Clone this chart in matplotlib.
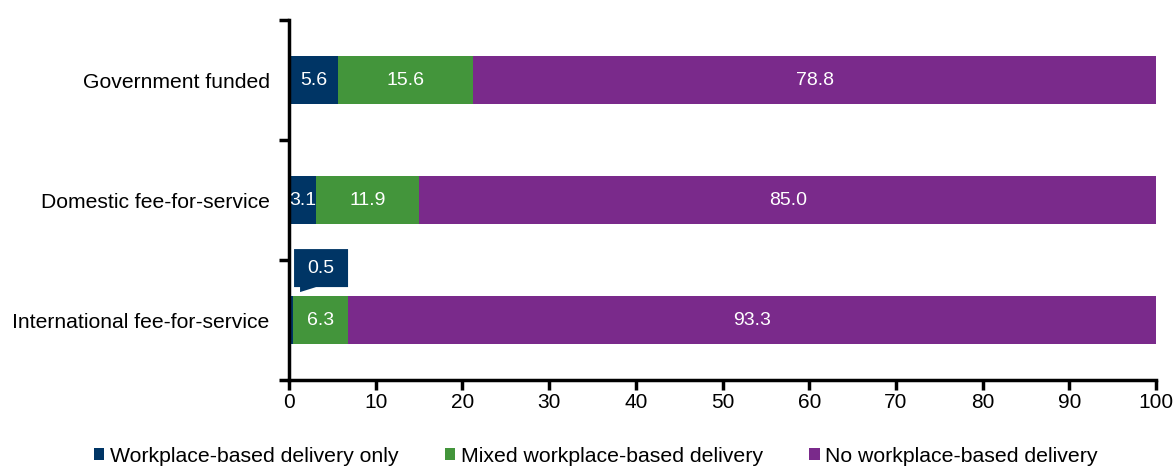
import numpy as np
import matplotlib.pyplot as plt
from matplotlib.patches import Polygon
from matplotlib.transforms import ScaledTranslation

plt.rcParams['font.family'] = ['Liberation Sans', 'DejaVu Sans']

# data (bottom to top)
categories = ['International fee-for-service', 'Domestic fee-for-service', 'Government funded']
workplace_only = [0.5, 3.1, 5.6]
mixed = [6.3, 11.9, 15.6]
no_workplace = [93.3, 85.0, 78.8]
series_names = ['Workplace-based delivery only', 'Mixed workplace-based delivery',
                'No workplace-based delivery']
colors = ['#003565', '#43953B', '#7A2A8B']

fig = plt.figure(figsize=(11.75, 4.66), dpi=100)
ax = fig.add_axes([0.246, 0.1845, 0.738, 0.772])

y = np.arange(len(categories))
left = np.zeros(len(categories))
for vals, name, col in zip([workplace_only, mixed, no_workplace], series_names, colors):
    vals = np.array(vals)
    ax.barh(y, vals, left=left, height=0.4, color=col, label=name)
    for i, v in enumerate(vals):
        if v >= 1:
            ax.text(left[i] + v / 2, y[i], f'{v:.1f}', ha='center', va='center',
                    color='white', fontsize=14)
    left += vals

ax.set_xlim(0, 100)
ax.set_ylim(-0.5, 2.5)

# callout for the tiny value, anchored at the top-left of its bar (shape in points)
v0 = workplace_only[0]
anchor = (0, y[0] + 0.2)
call_tr = fig.dpi_scale_trans + ScaledTranslation(anchor[0], anchor[1], ax.transData)
shape_px = np.array([[5, 9], [11, 9], [11, 4], [27, 9], [59, 9], [59, 47], [5, 47]])
callout = Polygon(shape_px * 0.72 / 72, closed=True, fc=colors[0], ec='none',
                  transform=call_tr, clip_on=False)
ax.add_patch(callout)
ax.annotate(f'{v0:.1f}', xy=anchor, xytext=(23, 20), textcoords='offset points',
            ha='center', va='center', color='white', fontsize=14)

ax.set_xticks(np.arange(0, 101, 10))
ax.set_yticks(y)
ax.set_yticklabels(categories)
ax.set_yticks([-0.5, 0.5, 1.5, 2.5], minor=True)
ax.tick_params(axis='y', which='major', length=0, pad=14, labelsize=15.2)
ax.tick_params(axis='y', which='minor', length=7, width=2.5, direction='out')
ax.tick_params(axis='x', length=7, width=2.5, direction='out', labelsize=15, pad=2)
for s in ['top', 'right']:
    ax.spines[s].set_visible(False)
for s in ['left', 'bottom']:
    ax.spines[s].set_linewidth(2.5)

fig.legend(loc='lower center', bbox_to_anchor=(0.507, -0.04), ncol=3, frameon=False,
           fontsize=15.3, handlelength=0.5, handleheight=0.5, handletextpad=0.25,
           columnspacing=2.2)

fig.savefig('out.png', dpi=100)
